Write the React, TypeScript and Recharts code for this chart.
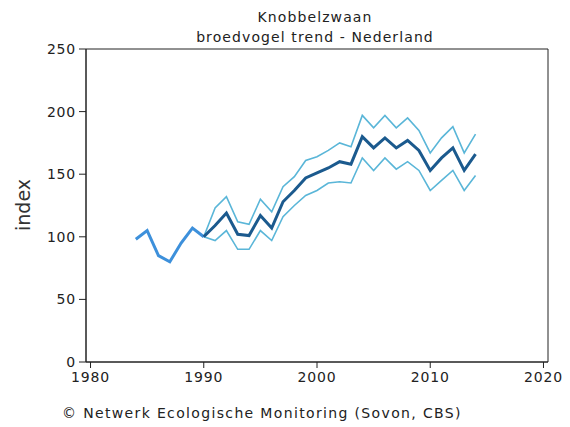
import React from "react";
import { LineChart, Line, XAxis, YAxis, ReferenceArea } from "recharts";

const years = [1984,1985,1986,1987,1988,1989,1990,1991,1992,1993,1994,1995,1996,1997,1998,1999,2000,2001,2002,2003,2004,2005,2006,2007,2008,2009,2010,2011,2012,2013,2014];
const earlyYears = [1984,1985,1986,1987,1988,1989,1990];
const earlyIndex = [98,105,85,80,95,107,100];
const trendYears = [1990,1991,1992,1993,1994,1995,1996,1997,1998,1999,2000,2001,2002,2003,2004,2005,2006,2007,2008,2009,2010,2011,2012,2013,2014];
const trendIndex = [100,109,119,102,101,117,107,128,137,147,151,155,160,158,180,171,179,171,177,169,153,163,171,153,166];
const upperIndex = [100,123,132,112,110,130,120,140,148,161,164,169,175,172,197,187,197,187,195,185,167,179,188,167,182];
const lowerIndex = [100,97,105,90,90,105,97,116,125,133,137,143,144,143,163,153,163,154,160,153,137,145,153,137,149];
const yTicks = [0,50,100,150,200,250];
const xTicks = [1980,1990,2000,2010,2020];

const data = years.map((y) => {
  const ei = earlyYears.indexOf(y);
  const ti = trendYears.indexOf(y);
  return {
    year: y,
    early: ei >= 0 ? earlyIndex[ei] : null,
    trend: ti >= 0 ? trendIndex[ti] : null,
    upper: ti >= 0 ? upperIndex[ti] : null,
    lower: ti >= 0 ? lowerIndex[ti] : null,
  };
});

const font = "'DejaVu Sans', Verdana, sans-serif";
const tickStyle = { fontSize: 14, fill: "#222", fontFamily: font, letterSpacing: 0.8 };

export default function App() {
  return (
    <div style={{ position: "absolute", left: 0, top: 0, width: 570, height: 427, background: "#fff", fontFamily: font }}>
      <div style={{ position: "absolute", left: 115, width: 400, top: 7, textAlign: "center", fontSize: 14, color: "#222", lineHeight: "20px", letterSpacing: 1.1 }}>
        Knobbelzwaan
        <br />
        broedvogel trend - Nederland
      </div>
      <div style={{ position: "absolute", left: 12, top: 205, transform: "translate(-50%,-50%) rotate(-90deg)", transformOrigin: "center", marginLeft: 11, fontSize: 19, color: "#333" }}>
        index
      </div>
      <div style={{ position: "absolute", left: 62, top: 405, fontSize: 14, color: "#222", whiteSpace: "nowrap", letterSpacing: 1.35 }}>
        © Netwerk Ecologische Monitoring (Sovon, CBS)
      </div>
      <LineChart width={570} height={427} data={data} margin={{ top: 49, right: 22, bottom: 0, left: 0 }}>
        <XAxis
          dataKey="year"
          type="number"
          domain={[1979.6, 2020.4]}
          ticks={xTicks}
          allowDataOverflow
          tick={tickStyle}
          tickSize={6}
          tickMargin={4}
          stroke="#222"
          height={65}
        />
        <YAxis
          type="number"
          domain={[0, 250]}
          ticks={yTicks}
          tick={tickStyle}
          tickSize={7}
          tickMargin={3}
          stroke="#222"
          width={86}
        />
        <ReferenceArea x1={1979.6} x2={2020.4} y1={0} y2={250} fill="none" stroke="#222" strokeWidth={1} />
        <Line dataKey="upper" stroke="#5ab6d8" strokeWidth={1.6} dot={false} isAnimationActive={false} connectNulls={false} />
        <Line dataKey="lower" stroke="#5ab6d8" strokeWidth={1.6} dot={false} isAnimationActive={false} connectNulls={false} />
        <Line dataKey="early" stroke="#3d90db" strokeWidth={3} dot={false} isAnimationActive={false} connectNulls={false} />
        <Line dataKey="trend" stroke="#1b5a8e" strokeWidth={3} dot={false} isAnimationActive={false} connectNulls={false} />
      </LineChart>
    </div>
  );
}
